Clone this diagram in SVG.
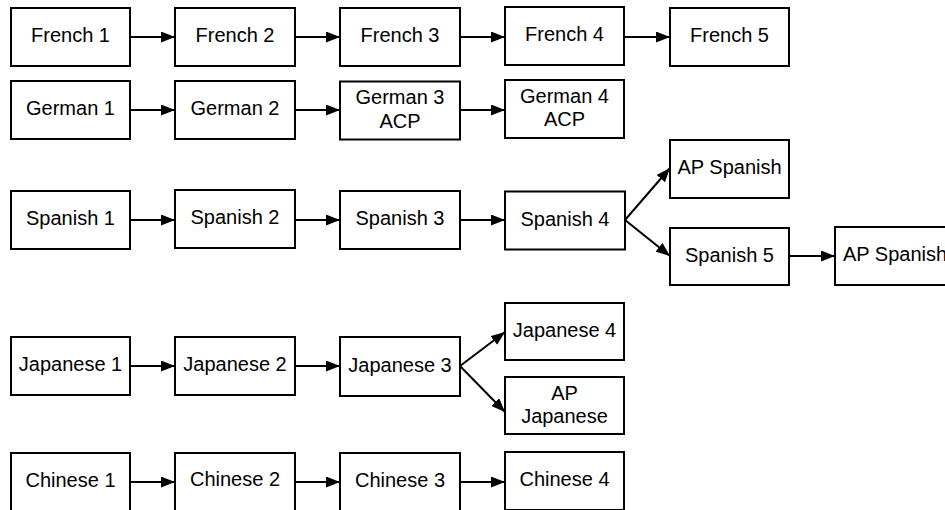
<svg xmlns="http://www.w3.org/2000/svg" width="945" height="510" viewBox="0 0 945 510">
<style>
.n rect{fill:#fff;stroke:#000;stroke-width:2}
.n text{font-family:"Liberation Sans",Arial,sans-serif;font-size:20px;fill:#000;text-anchor:middle}
.c line{stroke:#000;stroke-width:2;fill:none}
</style>
<defs>
<marker id="ah" markerUnits="userSpaceOnUse" viewBox="0 0 14 11" refX="14" refY="5.5" markerWidth="14" markerHeight="11" orient="auto">
<path d="M0,0 L14,5.5 L0,11 z" fill="#000"/>
</marker>
</defs>
<rect width="945" height="510" fill="#fff"/>
<g class="c" marker-end="url(#ah)">
<line x1="130" y1="37" x2="175" y2="37" marker-end="url(#ah)"/>
<line x1="295" y1="37" x2="340" y2="37" marker-end="url(#ah)"/>
<line x1="460" y1="37" x2="505" y2="37" marker-end="url(#ah)"/>
<line x1="624" y1="37" x2="670" y2="37" marker-end="url(#ah)"/>
<line x1="130" y1="110" x2="175" y2="110" marker-end="url(#ah)"/>
<line x1="295" y1="110" x2="340" y2="110" marker-end="url(#ah)"/>
<line x1="460" y1="110" x2="505" y2="110" marker-end="url(#ah)"/>
<line x1="130" y1="220" x2="175" y2="220" marker-end="url(#ah)"/>
<line x1="295" y1="220" x2="340" y2="220" marker-end="url(#ah)"/>
<line x1="460" y1="220" x2="505" y2="220" marker-end="url(#ah)"/>
<line x1="625" y1="220" x2="670" y2="168" marker-end="url(#ah)"/>
<line x1="625" y1="220" x2="670" y2="256" marker-end="url(#ah)"/>
<line x1="789" y1="256" x2="835" y2="256" marker-end="url(#ah)"/>
<line x1="130" y1="366" x2="175" y2="366" marker-end="url(#ah)"/>
<line x1="295" y1="366" x2="340" y2="366" marker-end="url(#ah)"/>
<line x1="460" y1="366" x2="505" y2="332" marker-end="url(#ah)"/>
<line x1="460" y1="366" x2="505" y2="412" marker-end="url(#ah)"/>
<line x1="130" y1="482" x2="175" y2="482" marker-end="url(#ah)"/>
<line x1="295" y1="482" x2="340" y2="482" marker-end="url(#ah)"/>
<line x1="460" y1="482" x2="505" y2="482" marker-end="url(#ah)"/>
</g>
<g id="french1" class="n"><rect x="11" y="8" width="119" height="58"/><text x="70.5" y="42">French 1</text></g>
<g id="french2" class="n"><rect x="175" y="8" width="120" height="58"/><text x="235" y="42">French 2</text></g>
<g id="french3" class="n"><rect x="340" y="8" width="120" height="58"/><text x="400" y="42">French 3</text></g>
<g id="french4" class="n"><rect x="505" y="7" width="119" height="58"/><text x="564.5" y="41">French 4</text></g>
<g id="french5" class="n"><rect x="670" y="8" width="119" height="58"/><text x="729.5" y="42">French 5</text></g>
<g id="german1" class="n"><rect x="11" y="81" width="119" height="58"/><text x="70.5" y="115">German 1</text></g>
<g id="german2" class="n"><rect x="175" y="81" width="120" height="58"/><text x="235" y="115">German 2</text></g>
<g id="german3" class="n"><rect x="340" y="81.5" width="120" height="58"/><text x="400" y="104">German 3</text><text x="400" y="127.5">ACP</text></g>
<g id="german4" class="n"><rect x="505" y="80" width="119" height="58"/><text x="564.5" y="102.5">German 4</text><text x="564.5" y="126">ACP</text></g>
<g id="spanish1" class="n"><rect x="11" y="191" width="119" height="58"/><text x="70.5" y="225">Spanish 1</text></g>
<g id="spanish2" class="n"><rect x="175" y="190" width="120" height="58"/><text x="235" y="224">Spanish 2</text></g>
<g id="spanish3" class="n"><rect x="340" y="191" width="120" height="58"/><text x="400" y="225">Spanish 3</text></g>
<g id="spanish4" class="n"><rect x="505" y="191.5" width="120" height="58"/><text x="565" y="225.5">Spanish 4</text></g>
<g id="apspanish1" class="n"><rect x="670" y="140" width="119" height="58"/><text x="729.5" y="174">AP Spanish</text></g>
<g id="spanish5" class="n"><rect x="670" y="228" width="119" height="57"/><text x="729.5" y="261.5">Spanish 5</text></g>
<g id="apspanish2" class="n"><rect x="835" y="227" width="120" height="58"/><text x="895" y="261">AP Spanish</text></g>
<g id="japanese1" class="n"><rect x="11" y="337" width="119" height="58"/><text x="70.5" y="371">Japanese 1</text></g>
<g id="japanese2" class="n"><rect x="175" y="337" width="120" height="58"/><text x="235" y="371">Japanese 2</text></g>
<g id="japanese3" class="n"><rect x="340" y="337" width="120" height="59"/><text x="400" y="371.5">Japanese 3</text></g>
<g id="japanese4" class="n"><rect x="505" y="303" width="119" height="57"/><text x="564.5" y="336.5">Japanese 4</text></g>
<g id="apjapanese" class="n"><rect x="505" y="377" width="119" height="57"/><text x="564.5" y="399.5">AP</text><text x="564.5" y="422.5">Japanese</text></g>
<g id="chinese1" class="n"><rect x="11" y="453" width="119" height="58"/><text x="70.5" y="487">Chinese 1</text></g>
<g id="chinese2" class="n"><rect x="175" y="453" width="120" height="58"/><text x="235" y="486">Chinese 2</text></g>
<g id="chinese3" class="n"><rect x="340" y="453" width="120" height="58"/><text x="400" y="487">Chinese 3</text></g>
<g id="chinese4" class="n"><rect x="505" y="452" width="119" height="58"/><text x="564.5" y="486">Chinese 4</text></g>
</svg>
